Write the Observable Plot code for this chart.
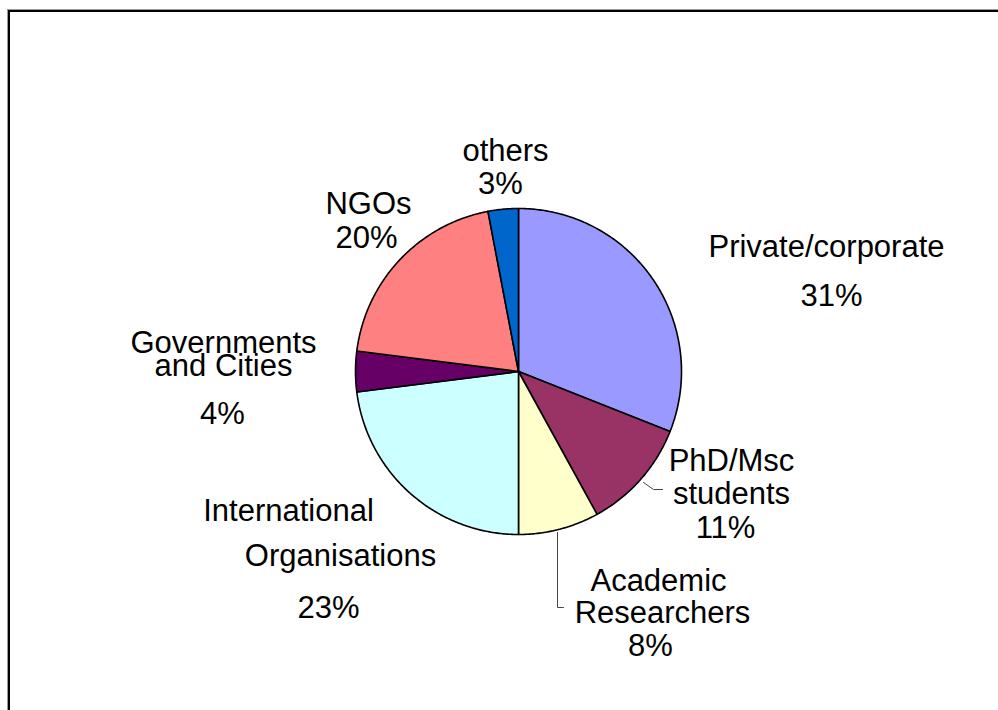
<!DOCTYPE html>
<html><head><meta charset="utf-8">
<script src="https://cdn.jsdelivr.net/npm/d3@7"></script>
<script src="https://cdn.jsdelivr.net/npm/@observablehq/plot@0.6"></script>
<style>
html,body{margin:0;padding:0;background:#fff;}
#wrap{position:relative;width:998px;height:710px;overflow:hidden;background:#fff;}
#frame{position:absolute;left:8px;top:10px;width:1200px;height:1000px;border-top:2px solid #000;border-left:2px solid #000;box-shadow:-1px -1px 0 #999;}
#chart{position:absolute;left:0;top:0;}
</style></head><body>
<div id="wrap"><div id="frame"></div><div id="chart"></div></div>
<script>
// ---- data ----
const categories = ["Private/corporate", "PhD/Msc students", "Academic Researchers", "International Organisations", "Governments and Cities", "NGOs", "others"];
const values = [31, 11, 8, 23, 4, 20, 3];
const colors = ["#9999FF", "#993366", "#FFFFCC", "#CCFFFF", "#660066", "#FF8080", "#0066CC"];
const labelLines = [["Private/corporate"], ["PhD/Msc", "students"], ["Academic", "Researchers"], ["International", "Organisations"], ["Governments", "and Cities"], ["NGOs"], ["others"]];

// ---- layout (pixel offsets from pie centre, label baselines; last entry = percent line) ----
const R = 163, CX = 518, CY = 371;
const labelLayout = [
  [[308, -115], [313, -66]],
  [[213, 99], [213, 132], [207, 166]],
  [[140, 219], [144, 251], [132, 284]],
  [[-230, 149], [-178, 194], [-190, 246]],
  [[-295, -19], [-295, 4], [-296, 52]],
  [[-150, -158], [-152, -124]],
  [[-13, -211], [-18, -178]]
];
const leaderLayout = {
  "PhD/Msc students": [[125, 111], [135, 118], [144, 118]],
  "Academic Researchers": [[39, 161], [39, 236], [45, 236]]
};

// ---- derived ----
const rows = categories.map((name, i) => ({name, value: values[i]}));
const arcs = d3.pie().sort(null).value(d => d.value)(rows);
const slicePts = arcs.flatMap(p => {
  const n = Math.max(2, Math.ceil((p.endAngle - p.startAngle) / 0.01));
  const pts = [{name: p.data.name, x: 0, y: 0}];
  for (let i = 0; i <= n; i++) {
    const a = p.startAngle + (p.endAngle - p.startAngle) * i / n;
    pts.push({name: p.data.name, x: Math.sin(a), y: Math.cos(a)});
  }
  return pts;
});
const labelRows = categories.flatMap((name, i) => {
  const texts = [...labelLines[i], `${values[i]}%`];
  return texts.map((t, j) => ({name, text: t, dx: labelLayout[i][j][0], dy: labelLayout[i][j][1]}));
});
const leaderRows = Object.entries(leaderLayout).flatMap(([name, pts]) => pts.map(([dx, dy]) => ({name, dx, dy})));

const chart = Plot.plot({
  width: 998,
  height: 710,
  x: {domain: [-1, 1], range: [CX - R, CX + R], axis: null},
  y: {domain: [-1, 1], range: [CY + R, CY - R], axis: null},
  color: {domain: categories, range: colors},
  style: {background: "transparent", overflow: "visible"},
  marks: [
    Plot.line(slicePts, {x: "x", y: "y", z: "name", fill: "name", stroke: "#000", strokeWidth: 1.6, strokeLinejoin: "round", curve: "linear-closed"}),
    Plot.line(leaderRows, {x: d => d.dx / R, y: d => -d.dy / R, z: "name", stroke: "#444", strokeWidth: 1}),
    Plot.text(labelRows, {x: d => d.dx / R, y: d => -d.dy / R, text: "text", fontSize: 31, fontFamily: "Liberation Sans, Arial, sans-serif", textAnchor: "middle", lineAnchor: "bottom", fill: "#000"})
  ]
});
document.getElementById("chart").appendChild(chart);
</script></body></html>
